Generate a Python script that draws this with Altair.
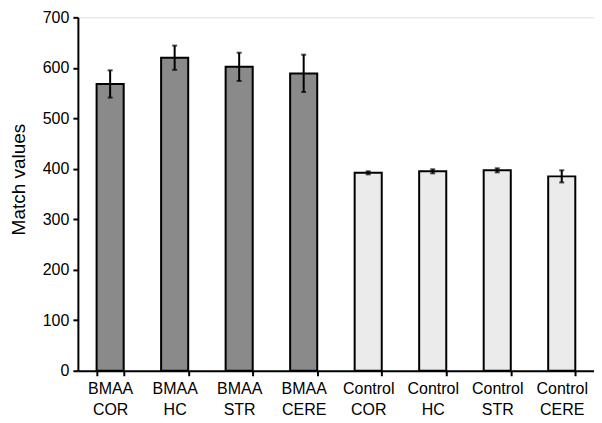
import altair as alt
import pandas as pd

categories = ["BMAA COR", "BMAA HC", "BMAA STR", "BMAA CERE",
              "Control COR", "Control HC", "Control STR", "Control CERE"]
groups = ["BMAA", "BMAA", "BMAA", "BMAA", "Control", "Control", "Control", "Control"]
means = [568, 620, 602, 589, 392, 395, 397, 385]
errors = [27, 24, 28, 37, 3, 4, 4, 12]

df = pd.DataFrame({
    "cat": categories,
    "group": groups,
    "mean": means,
    "lo": [m - e for m, e in zip(means, errors)],
    "hi": [m + e for m, e in zip(means, errors)],
})

FONT = "Liberation Sans"

x = alt.X("cat:N", sort=categories, title=None,
          scale=alt.Scale(paddingInner=0.58, paddingOuter=0.29),
          axis=alt.Axis(labelAngle=0, labelExpr="split(datum.label, ' ')",
                        labelFontSize=16, labelLineHeight=21, labelPadding=5,
                        tickBand="extent", tickSize=5, tickWidth=2,
                        domainWidth=2, domainColor="black", tickColor="black",
                        labelColor="black", labelFont=FONT))

bars = alt.Chart(df).mark_bar(stroke="black", strokeWidth=2).encode(
    x=x,
    y=alt.Y("mean:Q", title="Match values",
            scale=alt.Scale(domain=[0, 700]),
            axis=alt.Axis(values=[0, 100, 200, 300, 400, 500, 600, 700],
                          grid=False, labelFontSize=16, titleFontSize=19,
                          titleFontWeight="normal", titleFont=FONT, labelFont=FONT,
                          titleColor="black", labelColor="black",
                          tickSize=5, tickWidth=2, domainWidth=2,
                          domainColor="black", tickColor="black",
                          labelPadding=4, titlePadding=14, titleY=162)),
    fill=alt.Fill("group:N", scale=alt.Scale(domain=["BMAA", "Control"],
                                             range=["#8a8a8a", "#ebebeb"]),
                  legend=None),
)

rules = alt.Chart(df).mark_rule(color="black", strokeWidth=2).encode(
    x=alt.X("cat:N", sort=categories),
    y="lo:Q",
    y2="hi:Q",
)

caps_lo = alt.Chart(df).mark_tick(color="black", thickness=2, size=5).encode(
    x=alt.X("cat:N", sort=categories),
    y="lo:Q",
)
caps_hi = alt.Chart(df).mark_tick(color="black", thickness=2, size=5).encode(
    x=alt.X("cat:N", sort=categories),
    y="hi:Q",
)

chart = alt.layer(bars, rules, caps_lo, caps_hi).properties(
    width=517, height=354,
    autosize=alt.AutoSizeParams(type="none"),
    padding={"left": 70, "top": 9, "right": 0, "bottom": 60},
).configure_view(stroke=None).configure(font=FONT)

chart.save("out.html", embed_options={"renderer": "svg", "actions": False})
